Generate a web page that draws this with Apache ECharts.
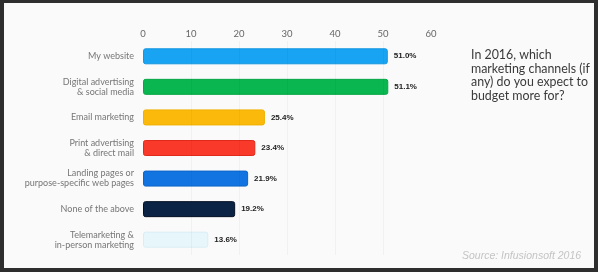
<!DOCTYPE html>
<html>
<head>
<meta charset="utf-8">
<script src="https://cdn.jsdelivr.net/npm/echarts@6/dist/echarts.min.js"></script>
<style>
html,body{margin:0;padding:0;background:#2e2e2e;}
#c{width:598px;height:272px;}
</style>
</head>
<body>
<div id="c"></div>
<script>
const categories = [
  'My website',
  'Digital advertising\n& social media',
  'Email marketing',
  'Print advertising\n& direct mail',
  'Landing pages or\npurpose-specific web pages',
  'None of the above',
  'Telemarketing &\nin-person marketing'
];
const values = [51.0, 51.1, 25.4, 23.4, 21.9, 19.2, 13.6];
const barColors = ['#19a3f3', '#09b64f', '#fbba0b', '#f9392a', '#1274e0', '#0b2446', '#e7f6fa'];
const borderColors = ['#1596e0', '#07a646', '#f0b000', '#e02a1c', '#0e66c8', '#030f22', '#d9eef4'];
const xTicks = [0, 10, 20, 30, 40, 50, 60];
const titleText = 'In 2016, which\nmarketing channels (if\nany) do you expect to\nbudget more for?';
const sourceText = 'Source: Infusionsoft 2016';

const chart = echarts.init(document.getElementById('c'), null, {renderer: 'canvas'});
chart.setOption({
  animation: false,
  backgroundColor: '#2e2e2e',
  graphic: [
    {type: 'rect', z: -100, shape: {x: 4, y: 3, width: 590, height: 265}, style: {fill: '#fafafa'}},
    {type: 'text', left: 471, top: 48, z: 10,
     style: {text: titleText, fill: '#3a3a3a', font: '12.4px Lato, sans-serif', lineHeight: 13.7}},
    {type: 'text', left: 462, top: 251, z: 10,
     style: {text: sourceText, fill: '#c4c4c4', font: 'italic 10.5px "Liberation Sans", sans-serif'}}
  ],
  grid: {left: 143, right: 167, top: 41, height: 214},
  xAxis: {
    type: 'value', position: 'top', min: xTicks[0], max: xTicks[xTicks.length - 1], interval: 10,
    axisLine: {show: false}, axisTick: {show: false},
    splitLine: {show: false},
    axisLabel: {color: '#666', fontSize: 9.5, margin: 2, fontFamily: 'Lato, sans-serif'}
  },
  yAxis: {
    type: 'category', inverse: true, data: categories,
    axisLine: {show: false}, axisTick: {show: false},
    axisLabel: {color: '#767676', fontSize: 9, margin: 9, align: 'right', lineHeight: 10,
                fontFamily: 'Lato, sans-serif'}
  },
  series: [{
    type: 'bar', barWidth: 16,
    data: values.map((v, i) => ({
      value: v,
      itemStyle: {color: barColors[i], borderColor: borderColors[i], borderWidth: 1, borderRadius: 2}
    })),
    label: {
      show: true, position: 'right', distance: 6, color: '#222', fontSize: 8, fontWeight: 'bold',
      fontFamily: '"Liberation Sans", sans-serif',
      formatter: p => p.value.toFixed(1) + '%'
    },
    markLine: {
      silent: true, symbol: 'none', label: {show: false},
      lineStyle: {color: 'rgba(0,0,0,0.035)', type: 'solid', width: 1},
      data: [{xAxis: 10}, {xAxis: 20}, {xAxis: 30}, {xAxis: 40}, {xAxis: 50}]
    }
  }]
});
</script>
</body>
</html>
